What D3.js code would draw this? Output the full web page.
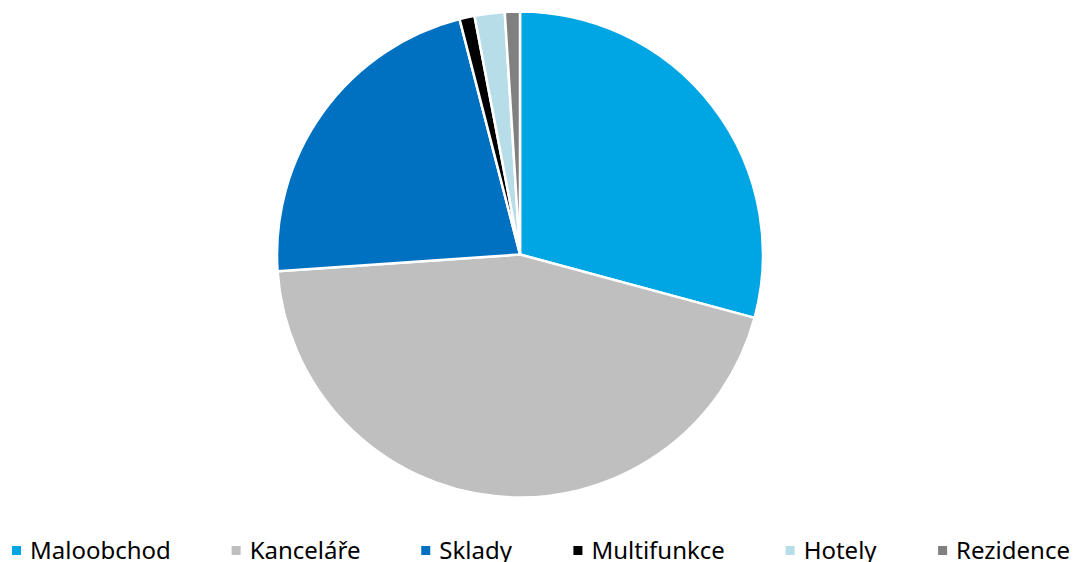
<!DOCTYPE html>
<html>
<head>
<meta charset="utf-8">
<script src="https://cdn.jsdelivr.net/npm/d3@7"></script>
<style>
  html, body { margin: 0; padding: 0; background: #fff; overflow: hidden; }
  svg { display: block; }
</style>
</head>
<body>
<svg width="1073" height="562"></svg>
<script>
// Data
const categories = ["Maloobchod", "Kanceláře", "Sklady", "Multifunkce", "Hotely", "Rezidence"];
const shares = [29.2, 44.7, 22.1, 1.0, 2.0, 1.0];
const colors = ["#00A6E3", "#BFBFBF", "#0070C0", "#000000", "#B7DEE8", "#808080"];

const svg = d3.select("svg");

const cx = 520, cy = 254.5, radius = 243;

const pie = d3.pie().sort(null).value((d) => d.value);
const arc = d3.arc().innerRadius(0).outerRadius(radius);

const data = categories.map((c, i) => ({ name: c, value: shares[i], color: colors[i] }));

// Koláč
svg.append("g")
  .attr("transform", `translate(${cx},${cy})`)
  .selectAll("path")
  .data(pie(data))
  .enter()
  .append("path")
  .attr("d", arc)
  .attr("fill", (d) => d.data.color)
  .attr("stroke", "#fff")
  .attr("stroke-width", 2.5)
  .attr("stroke-linejoin", "round");

// Legenda
const legend = svg.append("g").attr("font-family", "'Noto Sans', sans-serif").attr("font-size", 24);
const legendY = 559;
const marker = 9, markerGap = 9;

const items = legend.selectAll("g")
  .data(data)
  .enter()
  .append("g");

items.append("rect")
  .attr("width", marker)
  .attr("height", marker)
  .attr("y", legendY - 13)
  .attr("fill", (d) => d.color);

items.append("text")
  .attr("x", marker + markerGap)
  .attr("y", legendY)
  .attr("fill", "#000")
  .text((d) => d.name);

// rozmístění položek podle šířky textu
const widths = [];
items.each(function () {
  widths.push(this.getBBox().width);
});
const left = 12, right = 1070;
const spacing = (right - left - d3.sum(widths)) / (widths.length - 1);
let x = left;
items.attr("transform", (d, i) => {
  const t = `translate(${x},0)`;
  x += widths[i] + spacing;
  return t;
});
</script>
</body>
</html>
